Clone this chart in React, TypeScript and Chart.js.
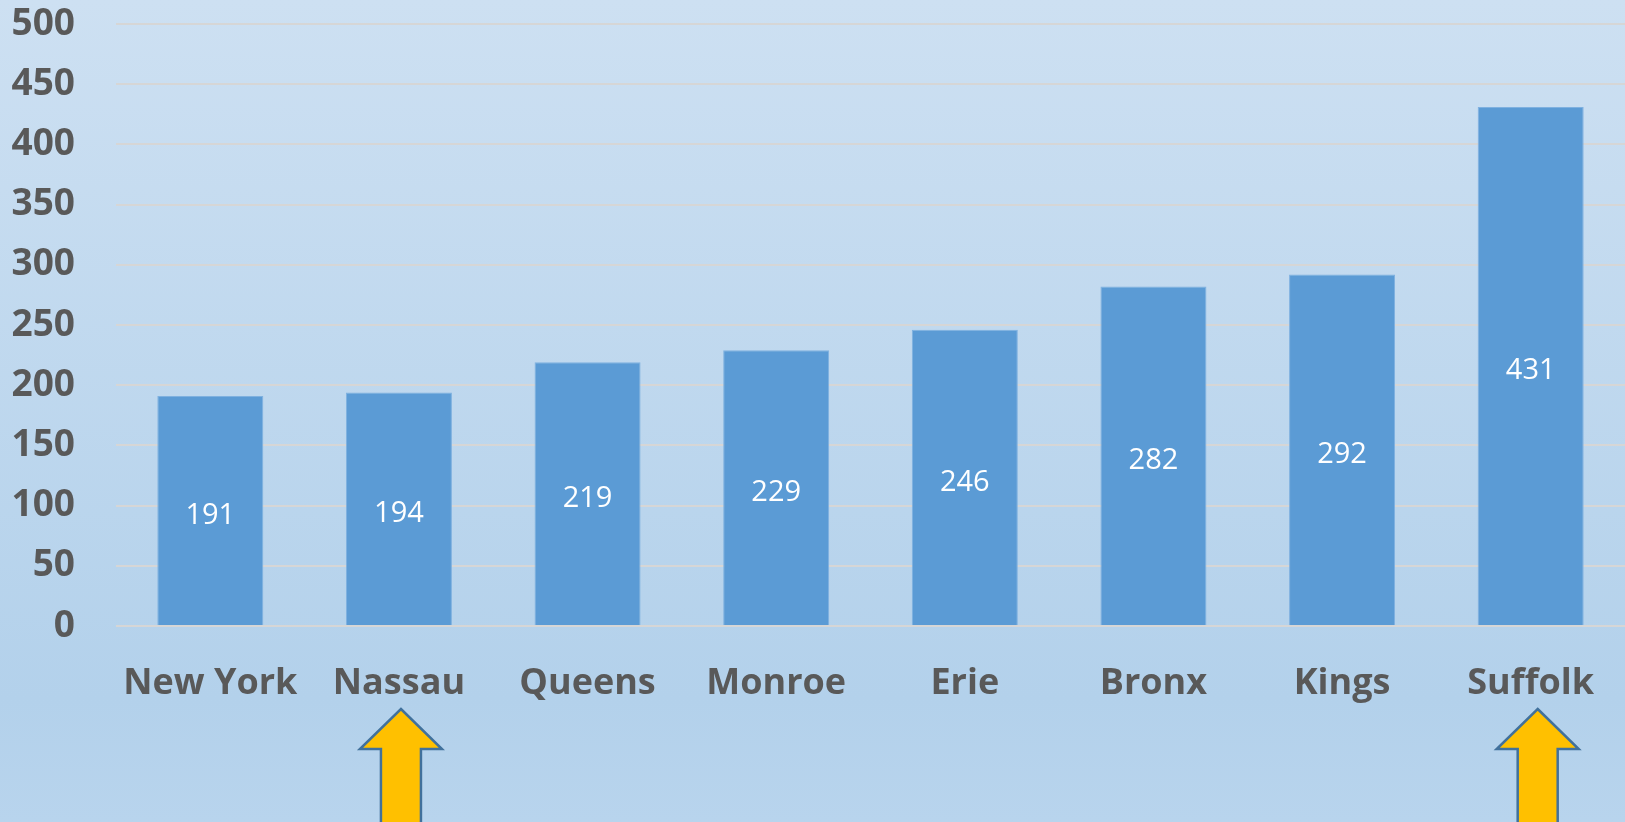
import React, { useEffect, useRef } from "react";
import { Chart, registerables } from "chart.js";

Chart.register(...registerables);

const categories = ["New York", "Nassau", "Queens", "Monroe", "Erie", "Bronx", "Kings", "Suffolk"];
const values = [191, 194, 219, 229, 246, 282, 292, 431];
const yTicks = [0, 50, 100, 150, 200, 250, 300, 350, 400, 450, 500];
const arrowCategories = ["Nassau", "Suffolk"];
const arrowOffsets = [2, 7];

const FONT = "'Open Sans', sans-serif";

const backgroundPlugin = {
  id: "bg",
  beforeDraw(chart: any) {
    const { ctx, width, height } = chart;
    const g = ctx.createLinearGradient(0, 0, 0, height);
    g.addColorStop(0, "#cde0f2");
    g.addColorStop(0.85, "#b3d1eb");
    g.addColorStop(1, "#b8d4ed");
    ctx.save();
    ctx.fillStyle = g;
    ctx.fillRect(0, 0, width, height);
    ctx.restore();
  },
};

const labelsPlugin = {
  id: "barLabels",
  afterDatasetsDraw(chart: any) {
    const { ctx } = chart;
    const meta = chart.getDatasetMeta(0);
    ctx.save();
    ctx.fillStyle = "#ffffff";
    ctx.font = `400 29px ${FONT}`;
    ctx.textAlign = "center";
    ctx.textBaseline = "middle";
    meta.data.forEach((bar: any, i: number) => {
      const cy = (bar.y + bar.base) / 2;
      ctx.fillText(String(values[i]), bar.x, cy + 5);
    });
    ctx.restore();
  },
};

const arrowsPlugin = {
  id: "arrows",
  afterDraw(chart: any) {
    const { ctx, height } = chart;
    const xScale = chart.scales.x;
    ctx.save();
    arrowCategories.forEach((cat, k) => {
      const idx = categories.indexOf(cat);
      const cx = xScale.getPixelForValue(idx) + arrowOffsets[k];
      const tipY = 709;
      const wingY = 749;
      const halfWing = 41;
      const halfShaft = 20;
      ctx.beginPath();
      ctx.moveTo(cx, tipY);
      ctx.lineTo(cx + halfWing, wingY);
      ctx.lineTo(cx + halfShaft, wingY);
      ctx.lineTo(cx + halfShaft, height + 5);
      ctx.lineTo(cx - halfShaft, height + 5);
      ctx.lineTo(cx - halfShaft, wingY);
      ctx.lineTo(cx - halfWing, wingY);
      ctx.closePath();
      ctx.fillStyle = "#ffc000";
      ctx.fill();
      ctx.lineWidth = 2.5;
      ctx.strokeStyle = "#41719c";
      ctx.stroke();
    });
    ctx.restore();
  },
};

export default function App() {
  const ref = useRef<HTMLCanvasElement>(null);
  useEffect(() => {
    document.body.style.margin = "0";
    const chart = new Chart(ref.current!, {
      type: "bar",
      data: {
        labels: categories,
        datasets: [
          {
            data: values,
            backgroundColor: "#5b9bd5",
            borderColor: "#7fb1e0",
            borderWidth: 1,
            barPercentage: 0.562,
            categoryPercentage: 1,
          },
        ],
      },
      plugins: [backgroundPlugin, labelsPlugin, arrowsPlugin],
      options: {
        animation: false,
        responsive: false,
        maintainAspectRatio: false,
        layout: { padding: { top: 24, right: 0, left: 0, bottom: 0 } },
        plugins: { legend: { display: false }, tooltip: { enabled: false } },
        scales: {
          x: {
            grid: { display: false },
            border: { display: false },
            ticks: {
              color: "#595959",
              font: { family: FONT, size: 36, weight: "bold" },
              padding: 28,
              maxRotation: 0,
              autoSkip: false,
            },
            afterFit(scale: any) {
              scale.height = 196;
              scale.paddingLeft = 0;
              scale.paddingRight = 0;
            },
          },
          y: {
            min: 0,
            max: 500,
            afterBuildTicks(scale: any) {
              scale.ticks = yTicks.map((v) => ({ value: v }));
            },
            grid: { color: "#d6d6d6", lineWidth: 2, drawTicks: false },
            border: { display: false },
            ticks: {
              color: "#595959",
              font: { family: FONT, size: 37, weight: "bold" },
              padding: 41,
            },
            afterFit(scale: any) {
              scale.width = 116;
              scale.paddingTop = 0;
              scale.paddingBottom = 0;
            },
          },
        },
      },
    });
    return () => chart.destroy();
  }, []);
  return (
    <div style={{ position: "fixed", left: 0, top: 0, width: 1625, height: 822 }}>
      <canvas ref={ref} width={1625} height={822} style={{ display: "block" }} />
    </div>
  );
}
